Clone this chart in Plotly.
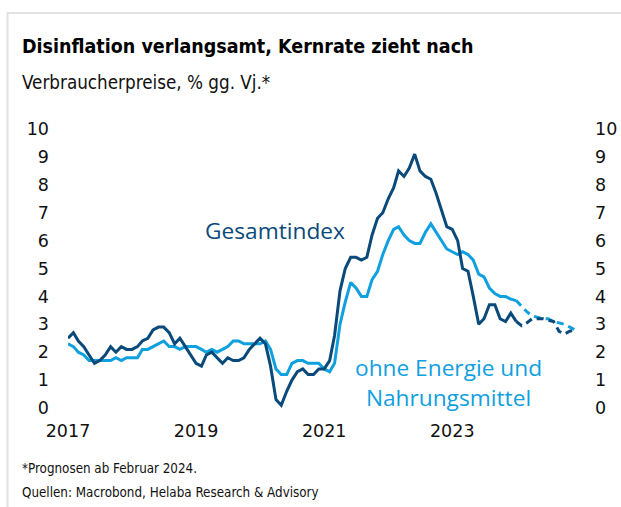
import pandas as pd
import plotly.graph_objects as go

# --- Data: US consumer prices, % y/y (monthly, Jan 2017 - Dec 2024) ---
months = pd.date_range("2017-01-01", "2024-12-01", freq="MS")

gesamt_actual = [
    2.5, 2.7, 2.4, 2.2, 1.9, 1.6, 1.7, 1.9, 2.2, 2.0, 2.2, 2.1,   # 2017
    2.1, 2.2, 2.4, 2.5, 2.8, 2.9, 2.9, 2.7, 2.3, 2.5, 2.2, 1.9,   # 2018
    1.6, 1.5, 1.9, 2.0, 1.8, 1.6, 1.8, 1.7, 1.7, 1.8, 2.1, 2.3,   # 2019
    2.5, 2.3, 1.5, 0.3, 0.1, 0.6, 1.0, 1.3, 1.4, 1.2, 1.2, 1.4,   # 2020
    1.4, 1.7, 2.6, 4.2, 5.0, 5.4, 5.4, 5.3, 5.4, 6.2, 6.8, 7.0,   # 2021
    7.5, 7.9, 8.5, 8.3, 8.6, 9.1, 8.5, 8.3, 8.2, 7.7, 7.1, 6.5,   # 2022
    6.4, 6.0, 5.0, 4.9, 4.0, 3.0, 3.2, 3.7, 3.7, 3.2, 3.1, 3.4,   # 2023
    3.1,                                                          # Jan 2024
]
gesamt_forecast = [3.1, 2.95, 3.05, 3.2, 3.2, 3.2, 3.15, 3.1, 2.75, 2.65, 2.75, 2.8]

kern_actual = [
    2.3, 2.2, 2.0, 1.9, 1.7, 1.7, 1.7, 1.7, 1.7, 1.8, 1.7, 1.8,   # 2017
    1.8, 1.8, 2.1, 2.1, 2.2, 2.3, 2.4, 2.2, 2.2, 2.1, 2.2, 2.2,   # 2018
    2.2, 2.1, 2.0, 2.1, 2.0, 2.1, 2.2, 2.4, 2.4, 2.3, 2.3, 2.3,   # 2019
    2.3, 2.4, 2.1, 1.4, 1.2, 1.2, 1.6, 1.7, 1.7, 1.6, 1.6, 1.6,   # 2020
    1.4, 1.3, 1.6, 3.0, 3.8, 4.5, 4.3, 4.0, 4.0, 4.6, 4.9, 5.5,   # 2021
    6.0, 6.4, 6.5, 6.2, 6.0, 5.9, 5.9, 6.3, 6.6, 6.3, 6.0, 5.7,   # 2022
    5.6, 5.5, 5.6, 5.5, 5.3, 4.8, 4.7, 4.3, 4.1, 4.0, 4.0, 3.9,   # 2023
    3.85,                                                         # Jan 2024
]
kern_forecast = [3.85, 3.65, 3.45, 3.3, 3.25, 3.2, 3.2, 3.1, 3.05, 3.0, 2.9, 2.8]

year_ticks = ["2017-01-01", "2019-01-01", "2021-01-01", "2023-01-01"]
year_labels = ["2017", "2019", "2021", "2023"]
y_ticks = list(range(0, 11))

n_act = len(gesamt_actual)
x_actual = months[:n_act]
x_forecast = months[n_act - 1:]

# --- Layout geometry (pixels) ---
W, H = 621, 507
L, R, T, B = 68, 46, 129, 99
PW, PH = W - L - R, H - T - B


def px_x(px):
    return (px - L) / PW


def px_y(py):
    return (H - B - py) / PH


DARK = "#0a4a7a"
LIGHT = "#0ea0df"
NARROW = "Liberation Sans Narrow, DejaVu Sans Condensed, Arial Narrow, Roboto"

fig = go.Figure()

fig.add_trace(go.Scatter(x=x_actual, y=kern_actual, mode="lines",
                         line=dict(color=LIGHT, width=3), hoverinfo="skip"))
fig.add_trace(go.Scatter(x=x_forecast, y=kern_forecast, mode="lines",
                         line=dict(color=LIGHT, width=3, dash="7px,5px"), hoverinfo="skip"))
fig.add_trace(go.Scatter(x=x_actual, y=gesamt_actual, mode="lines",
                         line=dict(color=DARK, width=3), hoverinfo="skip"))
fig.add_trace(go.Scatter(x=x_forecast, y=gesamt_forecast, mode="lines",
                         line=dict(color=DARK, width=3, dash="7px,5px"), hoverinfo="skip"))
# invisible trace so the right-hand axis is drawn
fig.add_trace(go.Scatter(x=x_actual, y=gesamt_actual, yaxis="y2", mode="lines",
                         line=dict(color="rgba(0,0,0,0)", width=0), hoverinfo="skip"))

tick_font = dict(family="DejaVu Sans", size=17.5, color="#111111")

# card border: top and left edge of a light grey frame
border = [
    dict(type="rect", xref="paper", yref="paper", layer="above",
         x0=px_x(7.5), x1=px_x(W + 20), y0=px_y(13), y1=px_y(H + 20),
         line=dict(color="#e2e2e2", width=2), fillcolor="rgba(0,0,0,0)"),
]

fig.update_layout(
    width=W, height=H,
    margin=dict(l=L, r=R, t=T, b=B, autoexpand=False),
    paper_bgcolor="white", plot_bgcolor="white",
    showlegend=False,
    shapes=border,
    xaxis=dict(
        type="date", range=["2017-01-01", "2024-12-01"],
        tickvals=year_ticks, ticktext=year_labels,
        showgrid=False, zeroline=False, showline=False, ticks="",
        tickfont=tick_font, ticklabelstandoff=10, automargin=False,
    ),
    yaxis=dict(
        range=[0, 10], tickvals=y_ticks,
        showgrid=False, zeroline=False, showline=False, ticks="",
        tickfont=tick_font, ticklabelstandoff=18, automargin=False,
    ),
    yaxis2=dict(
        range=[0, 10], tickvals=y_ticks, overlaying="y", side="right",
        showgrid=False, zeroline=False, showline=False, ticks="",
        tickfont=tick_font, ticklabelstandoff=19, automargin=False,
    ),
)

# titles and footnotes
fig.add_annotation(text="<b>Disinflation verlangsamt, Kernrate zieht nach</b>",
                   xref="paper", yref="paper", x=px_x(20), y=px_y(47),
                   xanchor="left", yanchor="middle", showarrow=False,
                   font=dict(family=NARROW, size=19.5, color="#000000"))
fig.add_annotation(text="Verbraucherpreise, % gg. Vj.*",
                   xref="paper", yref="paper", x=px_x(20), y=px_y(82),
                   xanchor="left", yanchor="middle", showarrow=False,
                   font=dict(family=NARROW, size=18.7, color="#111111"))
fig.add_annotation(text="*Prognosen ab Februar 2024.",
                   xref="paper", yref="paper", x=px_x(20), y=px_y(468),
                   xanchor="left", yanchor="middle", showarrow=False,
                   font=dict(family=NARROW, size=13.3, color="#111111"))
fig.add_annotation(text="Quellen: Macrobond, Helaba Research &amp; Advisory",
                   xref="paper", yref="paper", x=px_x(20), y=px_y(493),
                   xanchor="left", yanchor="middle", showarrow=False,
                   font=dict(family=NARROW, size=13.3, color="#111111"))

# series labels
fig.add_annotation(text="Gesamtindex",
                   xref="paper", yref="paper", x=px_x(275), y=px_y(230),
                   xanchor="center", yanchor="middle", showarrow=False,
                   font=dict(family="Open Sans", size=22.7, color=DARK))
fig.add_annotation(text="ohne Energie und<br>Nahrungsmittel",
                   xref="paper", yref="paper", x=px_x(448), y=px_y(382),
                   xanchor="center", yanchor="middle", showarrow=False, align="center",
                   font=dict(family="Open Sans", size=22.7, color=LIGHT))

# page body has a default margin; remove it so the figure sits at the window corner
fig.write_html("out.html", config={"displayModeBar": False},
               post_script="document.body.style.margin='0';")
